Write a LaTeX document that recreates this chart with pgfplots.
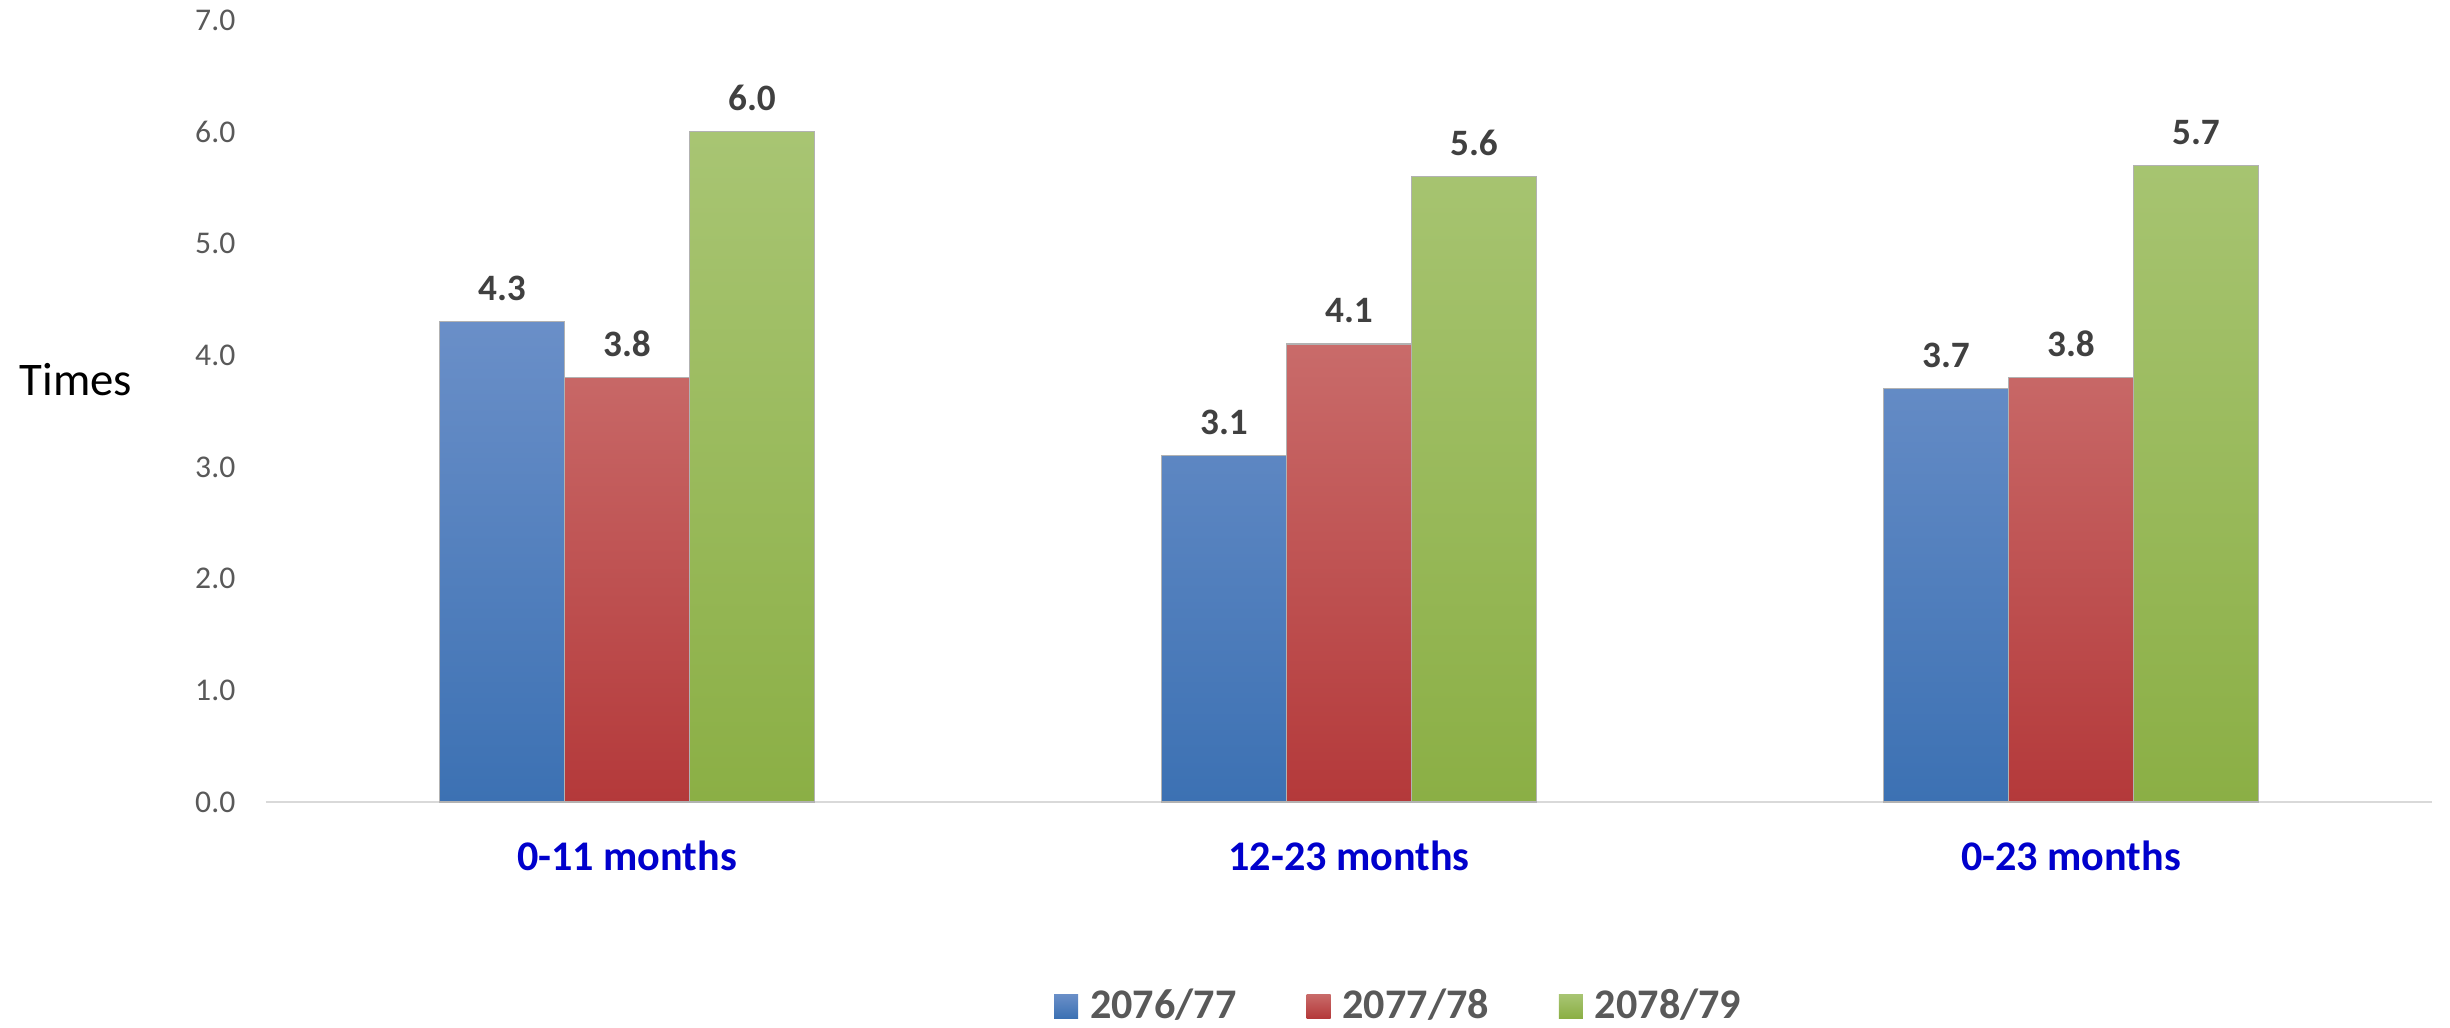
\documentclass[border=0pt]{standalone}
\usepackage{fontspec}
\setmainfont{Carlito}
\usepackage{pgfplots}
\pgfplotsset{compat=1.18}
\definecolor{blueT}{HTML}{6A8FC8}
\definecolor{blueB}{HTML}{3C71B3}
\definecolor{redT}{HTML}{C96B6A}
\definecolor{redB}{HTML}{B4393A}
\definecolor{greenT}{HTML}{A8C573}
\definecolor{greenB}{HTML}{8BAF45}
\definecolor{catblue}{HTML}{0000CC}
\definecolor{axisgray}{HTML}{D9D9D9}
\definecolor{tickgray}{HTML}{595959}
\definecolor{labelgray}{HTML}{404040}

\begin{document}
\begin{tikzpicture}
\useasboundingbox (-2.66cm,-2.25cm) rectangle (21.84cm,8.02cm);
\begin{axis}[
  scale only axis, width=21.66cm, height=7.82cm,
  at={(0,0)}, anchor=south west,
  ybar=0pt, bar width=1.25cm,
  xmin=-0.5, xmax=2.5, ymin=0, ymax=7,
  enlargelimits=false, clip=false,
  axis x line*=bottom, axis y line*=left,
  x axis line style={draw=axisgray, line width=0.8pt},
  y axis line style={draw=none},
  major tick length=0pt,
  xtick={0,1,2},
  xticklabels={{0-11 months},{12-23 months},{0-23 months}},
  xticklabel style={font=\fontsize{12pt}{14pt}\selectfont\bfseries, text=catblue,
    anchor=base, yshift=-0.68cm},
  ytick={0,1,2,3,4,5,6,7},
  yticklabel style={font=\fontsize{9pt}{11pt}\selectfont, text=tickgray,
    anchor=east, inner sep=0pt, xshift=-0.3cm,
    /pgf/number format/fixed, /pgf/number format/fixed zerofill,
    /pgf/number format/precision=1, /pgf/number format/assume math mode=true},
  ylabel={Times},
  every axis y label/.style={at={(rel axis cs:0,0.54)}, anchor=center,
    xshift=-1.9cm, font=\fontsize{13.3pt}{15pt}\selectfont},
  nodes near coords,
  nodes near coords style={font=\fontsize{10.6pt}{12pt}\selectfont\bfseries,
    text=labelgray, anchor=base, yshift=0.21cm, inner sep=0pt,
    /pgf/number format/fixed, /pgf/number format/fixed zerofill,
    /pgf/number format/precision=1, /pgf/number format/assume math mode=true},
  legend columns=-1,
  legend style={at={(0.5225,-0.261)}, anchor=center, draw=none, fill=none,
    font=\fontsize{12pt}{14pt}\selectfont\bfseries, text=tickgray,
    nodes={inner sep=0pt},
    /tikz/every odd column/.append style={column sep=0.12cm},
    /tikz/every even column/.append style={column sep=0.7cm}},
  legend image code/.code={\path[#1, draw=none] (0cm,-0.12cm) rectangle (0.24cm,0.12cm);},
]
\addplot[top color=blueT, bottom color=blueB, draw=gray!60, line width=0.4pt]
  coordinates {(0,4.3) (1,3.1) (2,3.7)};
\addlegendentry{2076/77}
\addplot[top color=redT, bottom color=redB, draw=gray!60, line width=0.4pt]
  coordinates {(0,3.8) (1,4.1) (2,3.8)};
\addlegendentry{2077/78}
\addplot[top color=greenT, bottom color=greenB, draw=gray!60, line width=0.4pt]
  coordinates {(0,6.0) (1,5.6) (2,5.7)};
\addlegendentry{2078/79}
\end{axis}
\end{tikzpicture}
\end{document}
